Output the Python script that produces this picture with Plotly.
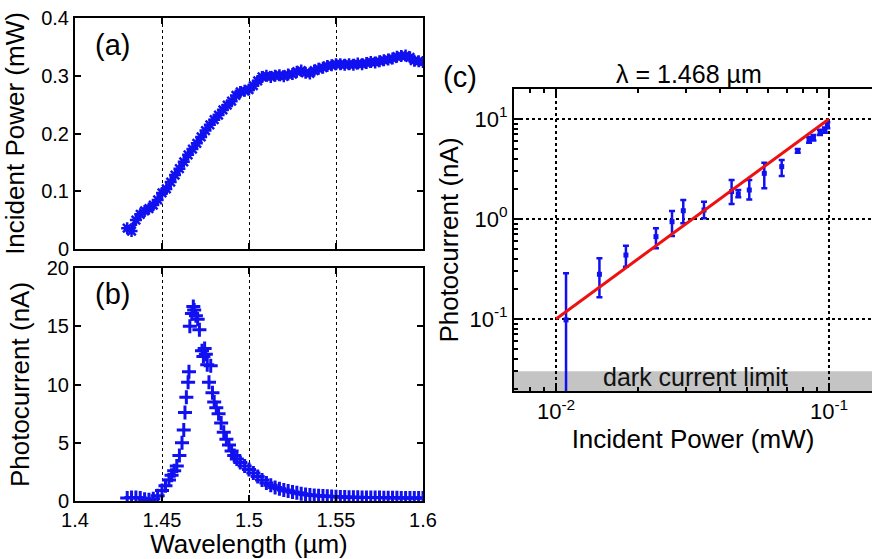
import plotly.graph_objects as go
import math

# ---------------- data ----------------
wl_a = [1.4300, 1.4325, 1.4350, 1.4375, 1.4400, 1.4425, 1.4450, 1.4475, 1.4500, 1.4525,
        1.4550, 1.4575, 1.4600, 1.4625, 1.4650, 1.4675, 1.4700, 1.4725, 1.4750, 1.4775,
        1.4800, 1.4825, 1.4850, 1.4875, 1.4900, 1.4925, 1.4950, 1.4975, 1.5000, 1.5025,
        1.5050, 1.5075, 1.5100, 1.5125, 1.5150, 1.5175, 1.5200, 1.5225, 1.5250, 1.5275,
        1.5300, 1.5325, 1.5350, 1.5375, 1.5400, 1.5425, 1.5450, 1.5475, 1.5500, 1.5525,
        1.5550, 1.5575, 1.5600, 1.5625, 1.5650, 1.5675, 1.5700, 1.5725, 1.5750, 1.5775,
        1.5800, 1.5825, 1.5850, 1.5875, 1.5900, 1.5925, 1.5950, 1.5975, 1.6000]
power_a = [0.036, 0.031, 0.050, 0.060, 0.066, 0.070, 0.076, 0.085, 0.097, 0.104,
           0.116, 0.128, 0.139, 0.151, 0.163, 0.173, 0.183, 0.194, 0.205, 0.215,
           0.224, 0.232, 0.241, 0.249, 0.256, 0.266, 0.272, 0.274, 0.276, 0.283,
           0.291, 0.298, 0.300, 0.298, 0.300, 0.301, 0.299, 0.302, 0.303, 0.307,
           0.309, 0.305, 0.304, 0.309, 0.312, 0.314, 0.317, 0.318, 0.320, 0.320,
           0.319, 0.320, 0.319, 0.321, 0.320, 0.322, 0.324, 0.323, 0.325, 0.327,
           0.328, 0.330, 0.333, 0.334, 0.335, 0.332, 0.326, 0.325, 0.324]

wl_b = [1.4300, 1.4325, 1.4350, 1.4375, 1.4400, 1.4425, 1.4450, 1.4475, 1.4500, 1.4520,
        1.4540, 1.4555, 1.4570, 1.4585, 1.4600, 1.4615, 1.4625, 1.4632, 1.4640, 1.4650,
        1.4655, 1.4660, 1.4672, 1.4680, 1.4685, 1.4695, 1.4705, 1.4715, 1.4730, 1.4738,
        1.4745, 1.4752, 1.4760, 1.4770, 1.4780, 1.4790, 1.4800, 1.4812, 1.4825, 1.4840,
        1.4855, 1.4870, 1.4885, 1.4900, 1.4915, 1.4930, 1.4950, 1.4975, 1.5000, 1.5025,
        1.5050, 1.5075, 1.5100, 1.5125, 1.5150, 1.5175, 1.5200, 1.5225, 1.5250, 1.5275,
        1.5300, 1.5325, 1.5350, 1.5375, 1.5400, 1.5425, 1.5450, 1.5475, 1.5500, 1.5525,
        1.5550, 1.5575, 1.5600, 1.5625, 1.5650, 1.5675, 1.5700, 1.5725, 1.5750, 1.5775,
        1.5800, 1.5825, 1.5850, 1.5875, 1.5900, 1.5925, 1.5950, 1.5975, 1.6000]
current_b = [0.25, 0.30, 0.30, 0.25, 0.15, 0.10, 0.20, 0.45, 0.90, 1.30,
             1.80, 2.20, 2.60, 3.00, 3.90, 5.00, 6.10, 7.60, 8.90, 10.2,
             11.1, 15.0, 16.1, 16.7, 16.4, 15.9, 15.6, 14.7, 12.9, 12.4,
             13.1, 12.6, 11.7, 10.2, 11.6, 9.3, 8.5, 8.0, 7.5, 6.7,
             5.9, 5.3, 4.8, 4.3, 3.9, 3.6, 3.3, 3.0, 2.7, 2.4,
             2.1, 1.8, 1.55, 1.35, 1.15, 1.05, 0.95, 0.85, 0.78, 0.70,
             0.62, 0.56, 0.52, 0.48, 0.45, 0.42, 0.40, 0.38, 0.36, 0.35,
             0.34, 0.33, 0.32, 0.32, 0.31, 0.30, 0.30, 0.29, 0.29, 0.28,
             0.28, 0.27, 0.27, 0.26, 0.26, 0.26, 0.25, 0.25, 0.25]

pin_c = [0.01088, 0.01442, 0.01803, 0.02323, 0.0266, 0.02925, 0.03484, 0.04397, 0.04652,
         0.05104, 0.05793, 0.0671, 0.0768, 0.0845, 0.0877, 0.0927, 0.0966, 0.0986]
iph_c = [0.098, 0.28, 0.436, 0.666, 0.94, 1.21, 1.23, 1.88, 1.78,
         1.95, 2.86, 3.34, 4.79, 6.17, 6.5, 7.3, 7.76, 8.7]
err_hi = [0.286, 0.405, 0.54, 0.807, 1.2, 1.55, 1.49, 2.45, 1.95,
          2.45, 3.66, 3.89, 5.0, 6.6, 6.9, 7.8, 8.2, 9.3]
err_lo = [0.001, 0.165, 0.333, 0.509, 0.676, 0.905, 1.02, 1.41, 1.65,
          1.57, 2.03, 2.69, 4.6, 5.8, 6.1, 6.9, 7.3, 8.1]
fit_x = [0.01, 0.1]
fit_y = [0.1, 10.0]
dark_limit = 0.03

xt_ab = [1.4, 1.45, 1.5, 1.55, 1.6]
xt_ab_text = ["1.4", "1.45", "1.5", "1.55", "1.6"]
yt_a = [0, 0.1, 0.2, 0.3, 0.4]
yt_a_text = ["0", "0.1", "0.2", "0.3", "0.4"]
yt_b = [0, 5, 10, 15, 20]
xt_c = [0.01, 0.1]
xt_c_text = ["10<sup>-2</sup>", "10<sup>-1</sup>"]
yt_c = [0.1, 1, 10]
yt_c_text = ["10<sup>-1</sup>", "10<sup>0</sup>", "10<sup>1</sup>"]
minor_x_c = [0.008, 0.009, 0.02, 0.03, 0.04, 0.05, 0.06, 0.07, 0.08, 0.09, 0.2, 0.3]
minor_y_c = [0.02, 0.03, 0.04, 0.05, 0.06, 0.07, 0.08, 0.09,
             0.2, 0.3, 0.4, 0.5, 0.6, 0.7, 0.8, 0.9,
             2, 3, 4, 5, 6, 7, 8, 9, 20]

BLUE = "#1010f0"
FONT = "Arial"
W, H = 872, 559

fig = go.Figure()

fig.add_trace(go.Scatter(x=wl_a, y=power_a, mode="lines+markers",
                         line=dict(color=BLUE, width=4),
                         marker=dict(symbol="asterisk-open", size=10, color=BLUE,
                                     line=dict(color=BLUE, width=2.5)),
                         xaxis="x", yaxis="y", showlegend=False))
fig.add_trace(go.Scatter(x=wl_b, y=current_b, mode="markers",
                         marker=dict(symbol="cross-thin-open", size=10, color=BLUE,
                                     line=dict(color=BLUE, width=3)),
                         xaxis="x2", yaxis="y2", showlegend=False))
fig.add_trace(go.Scatter(x=pin_c, y=iph_c, mode="markers",
                         marker=dict(symbol="square", size=5, color=BLUE),
                         error_y=dict(type="data", symmetric=False,
                                      array=[h - v for h, v in zip(err_hi, iph_c)],
                                      arrayminus=[v - l for l, v in zip(err_lo, iph_c)],
                                      color=BLUE, thickness=2.5, width=3),
                         xaxis="x3", yaxis="y3", showlegend=False))
fig.add_trace(go.Scatter(x=fit_x, y=fit_y, mode="lines",
                         line=dict(color="#ee1111", width=3),
                         xaxis="x3", yaxis="y3", showlegend=False))

def px(x):
    return x / W

def py(y):
    return 1 - y / H

tickfont = dict(family=FONT, size=20, color="black")
logtickfont = dict(family=FONT, size=22, color="black")
titlefont = dict(family=FONT, size=26, color="black")

common_lin = dict(showline=True, linecolor="black", linewidth=2, mirror="ticks",
                  ticks="inside", ticklen=6, tickcolor="black", tickwidth=1.5,
                  zeroline=False, tickfont=tickfont, automargin=False)

ylog_min, ylog_max = -1.72, 1.30
xlog_min, xlog_max = -2.154, -0.8425

fig.update_layout(
    width=W, height=H, margin=dict(l=0, r=0, t=0, b=0, autoexpand=False),
    paper_bgcolor="white", plot_bgcolor="white",
    font=dict(family=FONT, color="black"),
    xaxis=dict(domain=[px(75), px(423)], range=[1.4, 1.6], anchor="y",
               tickvals=xt_ab, ticktext=["", "", "", "", ""],
               showgrid=True, gridcolor="black", griddash="dot", gridwidth=1.3,
               **common_lin),
    yaxis=dict(domain=[py(249), py(18)], range=[0, 0.4], anchor="x",
               tickvals=yt_a, ticktext=yt_a_text, showgrid=False,
               title=dict(text="Incident Power (mW)", font=titlefont, standoff=10),
               **common_lin),
    xaxis2=dict(domain=[px(75), px(423)], range=[1.4, 1.6], anchor="y2",
                tickvals=xt_ab, ticktext=xt_ab_text,
                showgrid=True, gridcolor="black", griddash="dot", gridwidth=1.3,
                title=dict(text="Wavelength (µm)", font=titlefont, standoff=2),
                **common_lin),
    yaxis2=dict(domain=[py(501), py(268)], range=[0, 20], anchor="x2",
                tickvals=yt_b, showgrid=False,
                title=dict(text="Photocurrent (nA)", font=titlefont, standoff=10),
                **common_lin),
    xaxis3=dict(domain=[px(514), 1.0], type="log", range=[xlog_min, xlog_max], anchor="y3",
                tickvals=xt_c, ticktext=xt_c_text, automargin=False,
                showgrid=True, gridcolor="black", griddash="dot", gridwidth=1.8,
                showline=True, linecolor="black", linewidth=2, mirror="ticks",
                ticks="inside", ticklen=7, tickcolor="black", tickwidth=1.5,
                minor=dict(tickvals=minor_x_c, ticks="inside", ticklen=4,
                           tickcolor="black", showgrid=False),
                tickfont=logtickfont,
                title=dict(text="Incident Power (mW)", font=titlefont, standoff=4)),
    yaxis3=dict(domain=[py(391), py(89)], type="log", range=[ylog_min, ylog_max], anchor="x3",
                tickvals=yt_c, ticktext=yt_c_text, automargin=False,
                showgrid=True, gridcolor="black", griddash="dot", gridwidth=1.8,
                showline=True, linecolor="black", linewidth=2, mirror=False,
                ticks="inside", ticklen=7, tickcolor="black", tickwidth=1.5,
                minor=dict(tickvals=minor_y_c, ticks="inside", ticklen=4,
                           tickcolor="black", showgrid=False),
                tickfont=logtickfont,
                title=dict(text="Photocurrent (nA)", font=titlefont, standoff=3)),
)

# dark current band
band_top = (math.log10(dark_limit) - ylog_min) / (ylog_max - ylog_min)
fig.add_shape(type="rect", xref="x3 domain", yref="y3 domain", x0=0, x1=1, y0=0, y1=band_top,
              fillcolor="#c4c4c4", line=dict(width=0), layer="below")

ann = [
    dict(text="(a)", x=px(112), y=py(45), font=dict(family=FONT, size=29, color="black")),
    dict(text="(b)", x=px(112), y=py(294), font=dict(family=FONT, size=29, color="black")),
    dict(text="(c)", x=px(460), y=py(77), font=dict(family=FONT, size=29, color="black")),
    dict(text="λ = 1.468 µm", x=px(689), y=py(74), font=dict(family=FONT, size=25, color="black")),
    dict(text="dark current limit", x=px(695), y=py(377), font=dict(family=FONT, size=25, color="#111")),
]
for a in ann:
    fig.add_annotation(xref="paper", yref="paper", showarrow=False,
                       xanchor="center", yanchor="middle", **a)

fig.write_html("out.html")
